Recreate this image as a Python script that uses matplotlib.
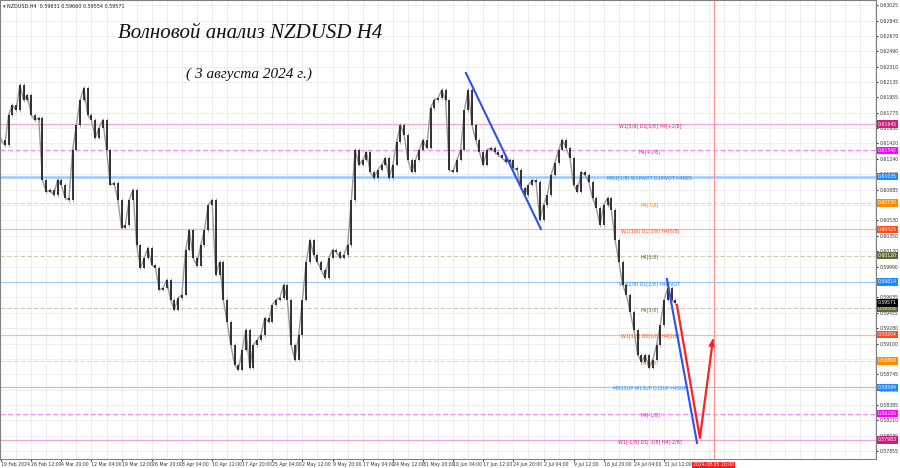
import matplotlib
matplotlib.use("Agg")
import matplotlib.pyplot as plt
from matplotlib.transforms import blended_transform_factory

# H4 closes, one value every 4 bars (19 Feb .. 2 Aug 2024)
closes = [
    0.61460, 0.61402, 0.61750, 0.61866, 0.61808, 0.62098, 0.61924, 0.61982, 0.61750, 0.61692,
    0.61715, 0.60997, 0.60858, 0.60881, 0.60823, 0.60997, 0.60939, 0.60788, 0.60765, 0.61345,
    0.61634, 0.61924, 0.62063, 0.61750, 0.61692, 0.61484, 0.61600, 0.61692, 0.61345, 0.60939,
    0.60962, 0.60765, 0.60441, 0.60475, 0.60765, 0.60881, 0.60243, 0.59977, 0.60093, 0.60209,
    0.60012, 0.59977, 0.59722, 0.59745, 0.59838, 0.59606, 0.59490, 0.59629, 0.59664, 0.60186,
    0.60417, 0.60093, 0.60000, 0.60243, 0.60417, 0.60707, 0.60765, 0.59896, 0.60046, 0.59606,
    0.59351, 0.59084, 0.58853, 0.58795, 0.59027, 0.59258, 0.58818, 0.59084, 0.59142, 0.59200,
    0.59397, 0.59351, 0.59548, 0.59606, 0.59629, 0.59780, 0.59606, 0.59084, 0.58911, 0.59200,
    0.59606, 0.60046, 0.60301, 0.60127, 0.60046, 0.59954, 0.59861, 0.60093, 0.60186, 0.60162,
    0.60093, 0.60127, 0.60243, 0.60765, 0.61345, 0.61171, 0.61229, 0.61321, 0.61090, 0.61020,
    0.61113, 0.61171, 0.61252, 0.61020, 0.61171, 0.61437, 0.61634, 0.61518, 0.61229, 0.61090,
    0.61229, 0.61345, 0.61460, 0.61368, 0.61831, 0.61924, 0.61947, 0.62040, 0.61924, 0.61113,
    0.61090, 0.61229, 0.61345, 0.61808, 0.62040, 0.61634, 0.61460, 0.61321, 0.61171, 0.61345,
    0.61368, 0.61321, 0.61287, 0.61252, 0.61205, 0.61229, 0.61136, 0.61113, 0.60904, 0.60823,
    0.60939, 0.60997, 0.60974, 0.60533, 0.60707, 0.60823, 0.61055, 0.61194, 0.61345, 0.61460,
    0.61368, 0.61252, 0.60939, 0.60858, 0.61090, 0.61055, 0.60974, 0.60788, 0.60672, 0.60475,
    0.60707, 0.60788, 0.60649, 0.60301, 0.60046, 0.59780, 0.59664, 0.59467, 0.59258, 0.58969,
    0.58887, 0.58969, 0.58818, 0.58911, 0.59084, 0.59316, 0.59606, 0.59745, 0.59606, 0.59571,
]
bars_per_close = 4

time_labels = ["19 Feb 2024", "26 Feb 12:00", "4 Mar 20:00", "12 Mar 04:00", "19 Mar 12:00",
               "26 Mar 20:00", "3 Apr 04:00", "10 Apr 12:00", "17 Apr 20:00", "25 Apr 04:00",
               "2 May 12:00", "9 May 20:00", "17 May 04:00", "24 May 12:00", "31 May 20:00",
               "10 Jun 04:00", "17 Jun 12:00", "24 Jun 20:00", "2 Jul 04:00", "9 Jul 12:00",
               "16 Jul 20:00", "24 Jul 04:00", "31 Jul 12:00"]
bars_per_label = 32

price_ticks = [0.63025, 0.62845, 0.62670, 0.62490, 0.62310, 0.62135, 0.61955, 0.61775, 0.61600,
               0.61420, 0.61240, 0.61065, 0.60885, 0.60710, 0.60530, 0.60350, 0.60170, 0.59990,
               0.59815, 0.59635, 0.59455, 0.59280, 0.59100, 0.58920, 0.58745, 0.58565, 0.58385,
               0.58210, 0.58030, 0.57855]

# murrey levels: price, label, kind
level_prices = [0.61645, 0.61340, 0.61035, 0.60730, 0.60425, 0.60120, 0.59814,
                0.59508, 0.59204, 0.58899, 0.58594, 0.58289, 0.57983]
level_names = ["W1[5/8] D1[5/8] H4[+2/8]", "H4[+1/8]", "MN1[1/8] W1PIVOT D1PIVOT H4RES",
               "H4[7/8]", "W1[3/8] D1[3/8] H4[6/8]", "H4[5/8]", "W1[2/8] D1[2/8] H4PIVOT",
               "H4[3/8]", "W1[1/8] D1[1/8] H4[2/8]", "H4[1/8]", "MN1SUP W1SUP D1SUP H4SUP",
               "H4[-1/8]", "W1[-1/8] D1[-1/8] H4[-2/8]"]
level_kinds = ["pink", "mag", "blue", "orange", "red", "olive", "blue",
               "olive", "red", "orange", "blue", "mag", "pink"]
kind_style = {
    "pink":   ("#f4a6d4", "-",  0.9, "#c8207e"),
    "mag":    ("#ff8cff", "--", 0.9, "#ff00ff"),
    "blue":   ("#9ccaff", "-",  0.9, "#1e88ff"),
    "orange": ("#ffd0a0", "--", 0.8, "#ff8c00"),
    "red":    ("#ffb89a", "-",  0.9, "#ff4a14"),
    "olive":  ("#cfcbb0", "--", 0.8, "#5c6b32"),
}
last_price = 0.59571

# hand drawn wave lines (bar index, price)
blue1_x, blue1_y = [493.6, 573.2], [0.62237, 0.60428]
blue2_x, blue2_y = [707.0, 739.0], [0.59849, 0.57948]
red_x, red_y = [717.6, 742.0, 755.8], [0.59548, 0.58006, 0.59177]
vline_bar = 756.5

fig = plt.figure(figsize=(9, 4.68), dpi=100)
ax = fig.add_axes([0.0, 9 / 468, 876 / 900, 459 / 468])
ax.set_xlim(-1.1, 929)
ax.set_ylim(0.57762, 0.63083)

for s in ["top", "bottom", "left", "right"]:
    ax.spines[s].set_color("#808080")
    ax.spines[s].set_linewidth(0.8)

# grid
for gx in range(16, 930, 16):
    ax.axvline(gx, color="#ebebeb", lw=0.6, zorder=0)
for gy in price_ticks:
    ax.axhline(gy, color="#ebebeb", lw=0.6, zorder=0)

# levels
for p, name, kind in zip(level_prices, level_names, level_kinds):
    lc, ls, lw, tc = kind_style[kind]
    if name.startswith("MN1[1/8]"):
        lw = 1.8
    ax.axhline(p, color=lc, ls=ls, lw=lw, zorder=1, dashes=(4, 2) if ls == "--" else (None, None))
    ax.text(689, p - 0.00017, name, color=tc, fontsize=3.4, ha="center", va="center", zorder=2)

# candles
xs = [i * bars_per_close for i in range(len(closes))]
opens = [closes[0]] + closes[:-1]
ax.plot(xs, closes, color="#9a9a9a", lw=1.0, zorder=2)
for x, o, c in zip(xs, opens, closes):
    lo, hi = min(o, c), max(o, c)
    ax.vlines(x, lo - 0.00018, hi + 0.00018, color="#9a9a9a", lw=0.6, zorder=2)
    ax.vlines(x, lo, hi, color="#262626", lw=1.3, zorder=3)

# wave lines
ax.plot(blue1_x, blue1_y, color="#2f4ff0", lw=1.5, zorder=4)
ax.plot(blue2_x, blue2_y, color="#2f4ff0", lw=1.5, zorder=4)
ax.plot(red_x[:-1] + [red_x[-1]], red_y[:-1] + [red_y[-1] - 0.0004], color="#ff2020", lw=1.6, zorder=4)
ax.annotate("", xy=(red_x[-1], red_y[-1]), xytext=(red_x[-2] + 0.9 * (red_x[-1] - red_x[-2]),
            red_y[-2] + 0.9 * (red_y[-1] - red_y[-2])),
            arrowprops=dict(arrowstyle="-|>", color="#ff2020", lw=1.6, mutation_scale=7), zorder=4)

# future date line
ax.axvline(vline_bar, color="#ff8f8f", lw=0.8, zorder=1)

# axes ticks
ax.yaxis.tick_right()
ax.set_yticks(price_ticks)
ax.set_yticklabels([f"{t:.5f}" for t in price_ticks])
ax.tick_params(axis="y", labelsize=3.3, length=1.5, pad=1.2, colors="#333333")
ax.set_xticks([i * bars_per_label for i in range(len(time_labels))])
ax.set_xticklabels(time_labels, ha="left")
ax.tick_params(axis="x", labelsize=3.3, length=1.5, pad=1.0, colors="#333333")

# right-side price tags
ytr = blended_transform_factory(ax.transAxes, ax.transData)
for p, kind in zip(level_prices, level_kinds):
    tc = kind_style[kind][3]
    ax.text(1.002, p, f"{p:.5f}", transform=ytr, fontsize=3.3, color="white", ha="left", va="center",
            clip_on=False, zorder=6, bbox=dict(boxstyle="square,pad=0.25", fc=tc, ec="none"))
ax.text(1.002, last_price, f"{last_price:.5f}", transform=ytr, fontsize=3.3, color="white", ha="left",
        va="center", clip_on=False, zorder=7, bbox=dict(boxstyle="square,pad=0.25", fc="black", ec="none"))

# date tag of the vertical line
xtr = blended_transform_factory(ax.transData, ax.transAxes)
ax.text(vline_bar, -0.007, "2024.08.05 20:00", transform=xtr, fontsize=3.3, color="white", ha="center",
        va="top", clip_on=False, zorder=6, bbox=dict(boxstyle="square,pad=0.15", fc="#ff1a1a", ec="none"))

# header and titles
ax.text(0.003, 0.991, "\u25be NZDUSD,H4  0.59631 0.59660 0.59554 0.59571", transform=ax.transAxes,
        fontsize=3.5, color="#222222", ha="left", va="top")
fig.text(250 / 900, 1 - 33 / 468, "Волновой анализ NZDUSD H4", fontsize=15, family="Liberation Serif",
         style="italic", ha="center", va="center", color="#111111")
fig.text(249 / 900, 1 - 74 / 468, "( 3 августа 2024 г.)", fontsize=11, family="Liberation Serif",
         style="italic", ha="center", va="center", color="#111111")

fig.savefig("out.png", dpi=100)
